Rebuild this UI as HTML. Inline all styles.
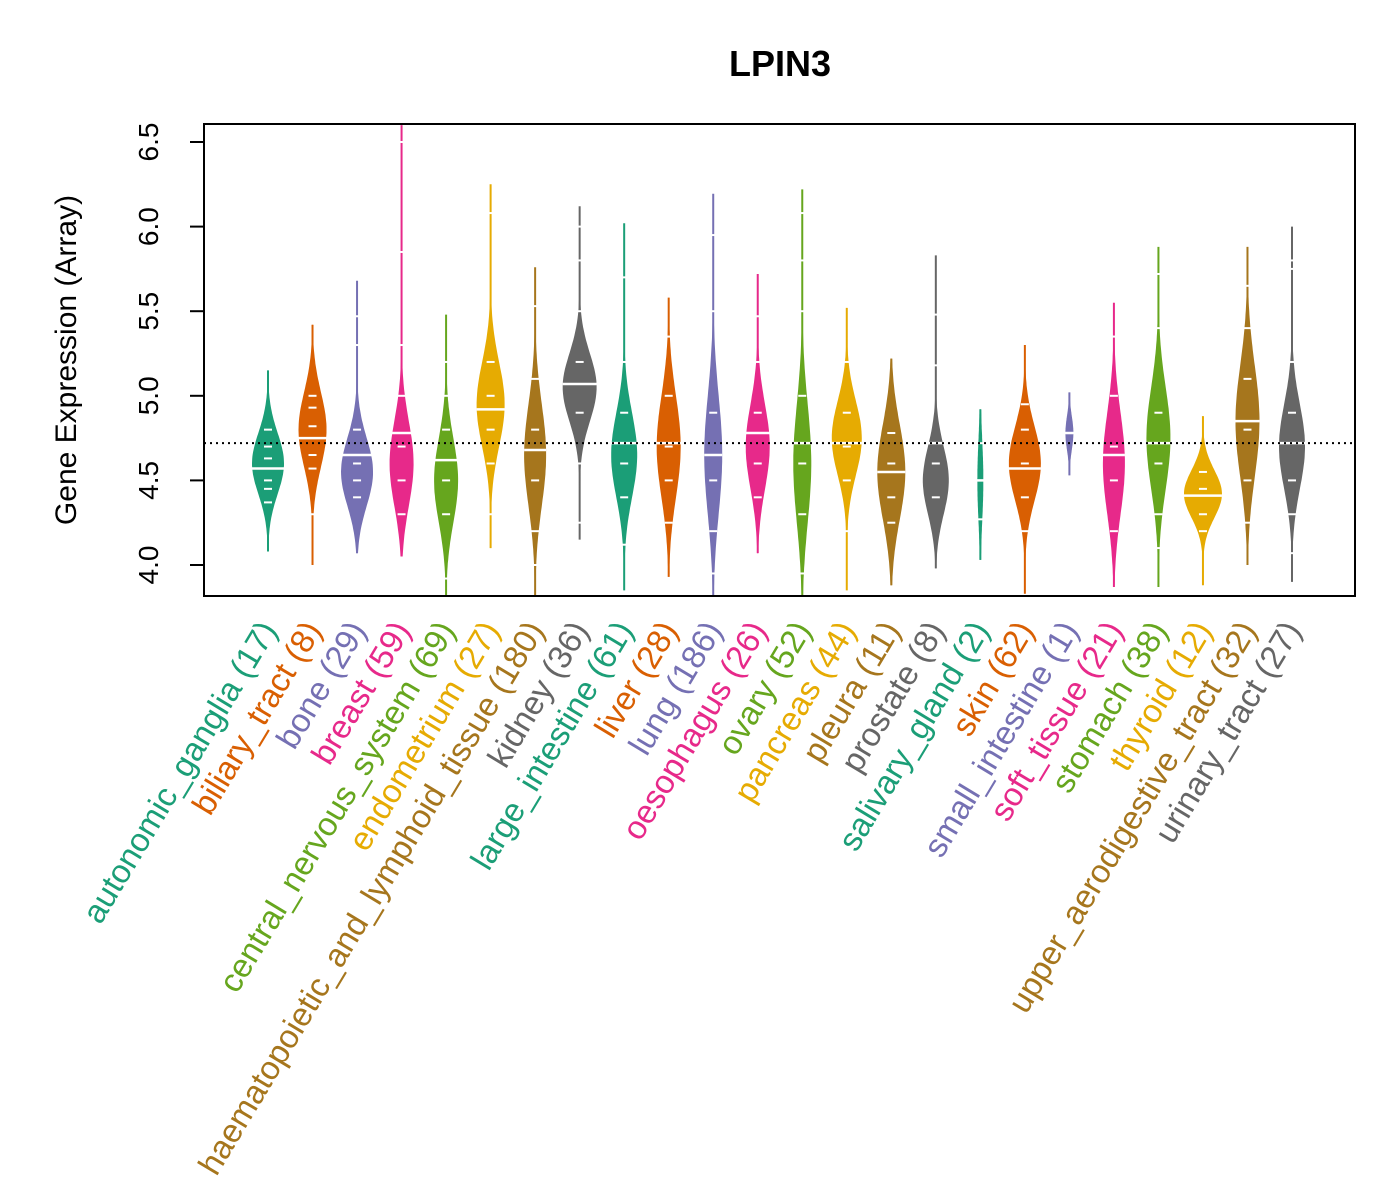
<!DOCTYPE html>
<html><head><meta charset="utf-8"><style>
body{margin:0;background:#fff}
svg{display:block;font-family:"Liberation Sans",sans-serif}
</style></head><body>
<svg id="chart" width="1400" height="1200" viewBox="0 0 1400 1200" xmlns="http://www.w3.org/2000/svg">
<text x="780" y="76" text-anchor="middle" font-size="36" font-weight="bold">LPIN3</text>
<text transform="translate(76,360) rotate(-90)" text-anchor="middle" font-size="30">Gene Expression (Array)</text>
<g id="plot"></g>
<rect x="204" y="124" width="1151" height="472" fill="none" stroke="#000" stroke-width="2"/>
</svg>
<script>
const categories=["autonomic_ganglia","biliary_tract","bone","breast","central_nervous_system","endometrium","haematopoietic_and_lymphoid_tissue","kidney","large_intestine","liver","lung","oesophagus","ovary","pancreas","pleura","prostate","salivary_gland","skin","small_intestine","soft_tissue","stomach","thyroid","upper_aerodigestive_tract","urinary_tract"];
const counts=[17,8,29,59,69,27,180,36,61,28,186,26,52,44,11,8,2,62,1,21,38,12,32,27];
const lows=[4.08,4.0,4.07,4.05,3.8,4.1,3.8,4.15,3.85,3.93,3.8,4.07,3.8,3.85,3.88,3.98,4.03,3.83,4.53,3.87,3.87,3.88,4.0,3.9];
const highs=[5.15,5.42,5.68,6.6,5.48,6.25,5.76,6.12,6.02,5.58,6.2,5.72,6.22,5.52,5.22,5.83,4.92,5.3,5.02,5.55,5.88,4.88,5.88,6.0];
const modes=[4.6,4.8,4.55,4.6,4.5,4.95,4.65,5.05,4.65,4.7,4.65,4.7,4.6,4.75,4.55,4.5,4.5,4.6,4.78,4.6,4.75,4.42,4.85,4.7];
const spreads=[0.18,0.22,0.2,0.25,0.25,0.25,0.3,0.2,0.25,0.3,0.35,0.25,0.35,0.22,0.28,0.2,0.25,0.22,0.1,0.3,0.3,0.14,0.33,0.25];
const widths=[16,14,16,12,12,14,11,17,13,12,9,12,9,15,14,13,3,16,4,11,12,19,12,13];
const medians=[4.57,4.75,4.65,4.78,4.62,4.92,4.68,5.07,4.72,4.72,4.65,4.78,4.72,4.72,4.55,4.72,4.5,4.57,4.78,4.65,4.72,4.41,4.85,4.72];
const points=[[4.37,4.45,4.5,4.63,4.7,4.8],[4.3,4.57,4.65,4.82,4.93,5.0],[4.4,4.5,4.6,4.8,5.3,5.47],[4.3,4.5,4.7,5.0,5.3,5.85,6.5],[3.92,4.3,4.5,4.8,5.0,5.2],[4.3,4.6,4.8,5.0,5.2,6.08],[4.0,4.2,4.5,4.8,5.1,5.53],[4.25,4.6,4.9,5.2,5.5,5.8,6.0],[4.12,4.4,4.6,4.9,5.2,5.7],[4.25,4.5,4.7,5.0,5.35],[3.95,4.2,4.5,4.9,5.5,5.95,6.2],[4.4,4.6,4.9,5.2,5.47],[3.95,4.3,4.6,5.0,5.5,5.8,6.08],[4.2,4.5,4.7,4.9,5.2],[4.25,4.4,4.6,4.78],[4.4,4.6,5.18,5.48],[4.27,4.72],[4.2,4.4,4.6,4.8,4.95],[4.78],[4.2,4.5,4.7,5.0,5.35],[4.1,4.3,4.6,4.9,5.4,5.72],[4.2,4.3,4.45,4.55],[4.25,4.5,4.8,5.1,5.4,5.65],[4.07,4.3,4.5,4.9,5.2,5.75,5.8]];
const yTicks=[4.0,4.5,5.0,5.5,6.0,6.5];
const yTickLabels=["4.0","4.5","5.0","5.5","6.0","6.5"];
const overall=4.72;
const colors=["#1B9E77","#D95F02","#7570B3","#E7298A","#66A61E","#E6AB02","#A6761D","#666666"];

const NS="http://www.w3.org/2000/svg";
const svg=document.getElementById('chart');
const plot=document.getElementById('plot');
const X0=204,X1=1355,Y0=124,Y1=596;
function y(v){return 565-(v-4.0)*169.2;}
function x(i){return 268+i*(1292-268)/(categories.length-1);}
function mk(tag,attrs,parent){const e=document.createElementNS(NS,tag);for(const k in attrs)e.setAttribute(k,attrs[k]);(parent||svg).appendChild(e);return e;}

const defs=mk('defs',{});
const cp=mk('clipPath',{id:'clip'},defs);
mk('rect',{x:X0,y:Y0,width:X1-X0,height:Y1-Y0},cp);
plot.setAttribute('clip-path','url(#clip)');

yTicks.forEach((t,i)=>{
  const l=mk('line',{x1:190,x2:X0,y1:y(t),y2:y(t),stroke:'#000','stroke-width':2});
  
  
  const tx=mk('text',{transform:`translate(158,${y(t)}) rotate(-90)`,'text-anchor':'middle','font-size':28});
  
  
  tx.textContent=yTickLabels[i];
});
const yl=mk('line',{x1:X0,x2:X0,y1:y(4.0),y2:y(6.5),stroke:'#000','stroke-width':2});



categories.forEach((c,i)=>{
  const cx=x(i),col=colors[i%8];
  const g=mk('g',{},plot);
  
  
  mk('line',{x1:cx,x2:cx,y1:y(lows[i]),y2:y(highs[i]),stroke:col,'stroke-width':2},g);
  const N=80;let right=[],left=[];
  for(let k=0;k<=N;k++){
    const v=lows[i]+(highs[i]-lows[i])*k/N;
    const d=Math.exp(-Math.pow(v-modes[i],2)/(2*spreads[i]*spreads[i]));
    const w=widths[i]*d;
    right.push(`${(cx+w).toFixed(1)},${y(v).toFixed(1)}`);
    left.unshift(`${(cx-w).toFixed(1)},${y(v).toFixed(1)}`);
  }
  mk('polygon',{points:right.concat(left).join(' '),fill:col},g);
  points[i].forEach(p=>{
    const l=mk('line',{x1:cx-4,x2:cx+4,y1:y(p),y2:y(p),stroke:'#fff','stroke-width':2},g);
    
    
  });
  const m=mk('line',{x1:cx-Math.max(widths[i],6),x2:cx+Math.max(widths[i],6),y1:y(medians[i]),y2:y(medians[i]),stroke:'#fff','stroke-width':2.5},g);
  
  
  const t=mk('text',{transform:`translate(${cx+10},${630}) rotate(-59)`,'text-anchor':'end','font-size':33,fill:col});
  
  
  t.textContent=`${c} (${counts[i]})`;
});
const ol=mk('line',{x1:X0,x2:X1,y1:y(overall),y2:y(overall),stroke:'#000','stroke-width':2,'stroke-dasharray':'2,4'},plot);


</script>
</body></html>
